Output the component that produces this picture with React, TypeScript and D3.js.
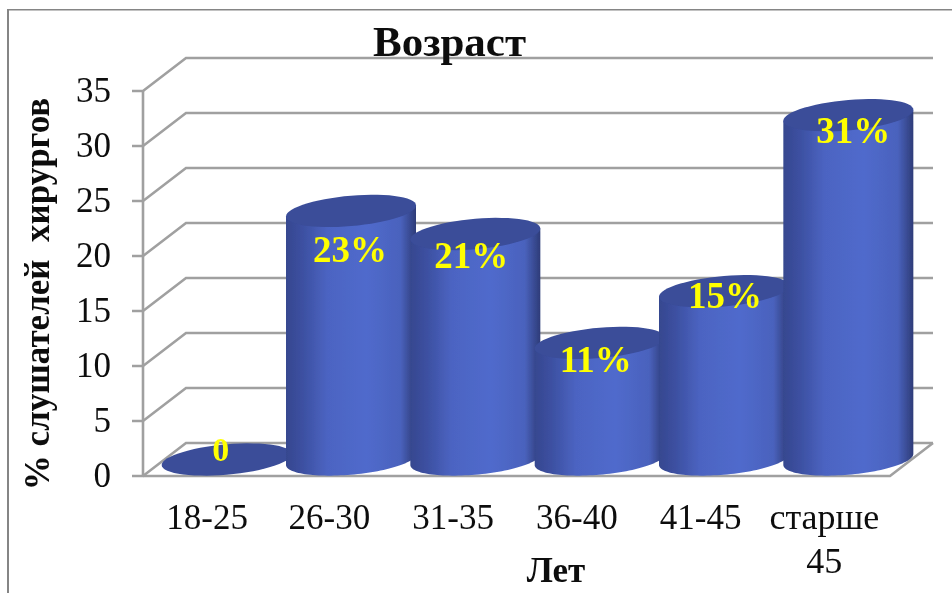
import React from "react";
import * as d3 from "d3";

const categories = ["18-25", "26-30", "31-35", "36-40", "41-45", "старше 45"];
const values = [0, 22.6, 20.5, 10.6, 15.3, 31.3];
const dataLabels = ["0", "23%", "21%", "11%", "15%", "31%"];
const yTicks = [0, 5, 10, 15, 20, 25, 30, 35];
// label placement relative to the centre of each cylinder's top
const labelDx = [-6, -1, -4, -4, 1, 5];
const labelDy = [1.5, 51, 34, 29.5, 17, 28];

const W = 952, H = 593;
const DX = 43, DY = -33;
const x = d3.scaleBand<string>().domain(categories).range([143, 889]);
const y = d3.scaleLinear().domain([0, 35]).range([476, 91]);
const RX = 65, RY = 15.2, TILT = 5.5;

const ellipsePts = (cx: number, cy: number, from: number, to: number): [number, number][] =>
  d3.range(0, 61).map((i) => {
    const t = from + ((to - from) * i) / 60;
    return [cx + RX * Math.cos(t), cy + RY * Math.sin(t) - TILT * Math.cos(t)];
  });
const line = d3.line();

export default function App() {
  const gridColor = "#a0a0a0";
  const serif = "'Liberation Serif', serif";
  const gw = 2.6;
  return (
    <svg width={W} height={H} viewBox={`0 0 ${W} ${H}`}
      style={{ position: "absolute", left: 0, top: 0, background: "#fff" }} fontFamily={serif}>
      <defs>
        <linearGradient id="cyl" x1="0" x2="1" y1="0" y2="0">
          <stop offset="0" stopColor="#36478f" />
          <stop offset="0.14" stopColor="#3d51a3" />
          <stop offset="0.32" stopColor="#4c64c2" />
          <stop offset="0.62" stopColor="#506acc" />
          <stop offset="0.88" stopColor="#4a62bd" />
          <stop offset="1" stopColor="#2e3c78" />
        </linearGradient>
        <filter id="soft" x="0" y="0" width="100%" height="100%">
          <feGaussianBlur stdDeviation="0.45" />
        </filter>
      </defs>
      <g filter="url(#soft)">
        <path d={`M7.5,593V9H952`} fill="none" stroke="#858585" strokeWidth={3} />

        {yTicks.map((t) => (
          <g key={t}>
            <path d={`M132,${y(t)}H143L${143 + DX},${y(t) + DY}H${890 + DX}`} fill="none" stroke={gridColor} strokeWidth={gw} />
            <text x={111} y={y(t) + 11} textAnchor="end" fontSize={35} fill="#111">{t}</text>
          </g>
        ))}
        <path d={`M143,${y(0)}V${y(35)}`} stroke={gridColor} strokeWidth={gw} />
        <path d={`M143,${y(0)}H890L${890 + DX},${y(0) + DY}`} fill="none" stroke={gridColor} strokeWidth={gw} />

        {categories.map((c, i) => {
          const cx = x(c)! + x.bandwidth() / 2 + DX / 2;
          const base = y(0) + DY / 2;
          const top = y(values[i]) + DY / 2;
          const lower = ellipsePts(cx, base, 0, Math.PI);
          const body: [number, number][] = [ellipsePts(cx, top, Math.PI, Math.PI)[0], ellipsePts(cx, top, 0, 0)[0], ...lower];
          return (
            <g key={c}>
              {values[i] > 0 && <path d={line(body)! + "Z"} fill="url(#cyl)" />}
              <path d={line(ellipsePts(cx, top, 0, 2 * Math.PI))! + "Z"} fill="#3a4d99" />
            </g>
          );
        })}

        {categories.map((c, i) => {
          const cx = x(c)! + x.bandwidth() / 2 + DX / 2;
          const top = y(values[i]) + DY / 2;
          return (
            <text key={c} x={cx + labelDx[i]} y={top + labelDy[i]}
              textAnchor="middle" fontSize={i === 0 ? 34 : 37} fontWeight={700} fill="#ffff00">{dataLabels[i]}</text>
          );
        })}

        {categories.map((c, i) => {
          const parts = c.split(" ");
          const multi = parts.length > 1;
          const cx = x(c)! + x.bandwidth() / 2 + (i === 0 ? 2 : 0.5) - i * 0.6 - (multi ? 0 : 0);
          return (
            <text key={c} y={529} textAnchor="middle" fontSize={multi ? 36 : 35} fill="#111">
              {parts.map((p, j) => (
                <tspan key={p} x={cx} dy={j === 0 ? 0 : 44}>{p}</tspan>
              ))}
            </text>
          );
        })}

        <text x={449.5} y={56} textAnchor="middle" fontSize={43} fontWeight={700} fill="#111">Возраст</text>
        <text x={556} y={582} textAnchor="middle" fontSize={35} fontWeight={700} fill="#111">Лет</text>
        <text transform="translate(49,294) rotate(-90)" textAnchor="middle" fontSize={35} fontWeight={700} fill="#111" xmlSpace="preserve">% слушателей  хирургов</text>
      </g>
    </svg>
  );
}
